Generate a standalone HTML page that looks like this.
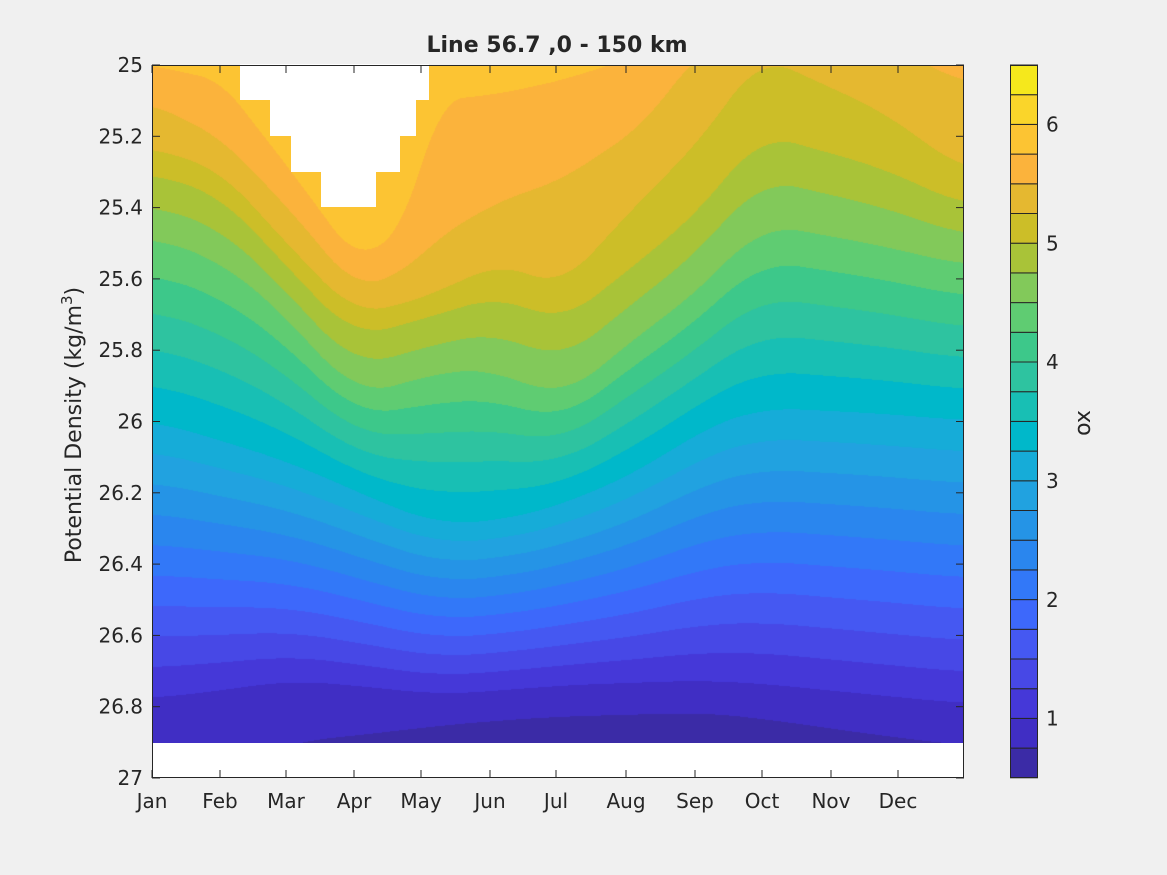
<!DOCTYPE html>
<html><head><meta charset="utf-8">
<style>
html,body{margin:0;padding:0;background:#f0f0f0;}
#wrap{position:relative;width:1167px;height:875px;background:#f0f0f0;font-family:"DejaVu Sans","Liberation Sans",sans-serif;color:#262626;overflow:hidden;}
canvas{position:absolute;left:152px;top:65px;}
svg{position:absolute;left:0;top:0;}
</style></head><body>
<div id="wrap">
<canvas id="c" width="812" height="678"></canvas>
<svg width="1167" height="875" xmlns="http://www.w3.org/2000/svg" font-family="DejaVu Sans, Liberation Sans, sans-serif" font-size="20" fill="#262626">
<polygon points="240,64 240,100 270,100 270,136 291,136 291,172 321,172 321,207 376,207 376,172 400,172 400,136 416,136 416,100 429,100 429,64" fill="#fff"/>
<rect x="152" y="743" width="812" height="35" fill="#fff"/>
<rect x="152.5" y="65.5" width="811" height="712" fill="none" stroke="#262626" stroke-width="1"/>
<g stroke="#262626" stroke-width="1" id="ticks"></g>
<g id="labels"></g>
<text x="557" y="52" text-anchor="middle" font-weight="bold" font-size="22">Line 56.7 ,0 - 150 km</text>
<text transform="translate(81,425) rotate(-90)" text-anchor="middle" font-size="22">Potential Density (kg/m<tspan font-size="15" dy="-9">3</tspan><tspan dy="9">)</tspan></text>
<g id="cb"></g>
<text transform="translate(1090,423) rotate(-90)" text-anchor="middle" font-size="22">ox</text>
</svg>
</div>
<script>
var cols=["#3b2ba6","#402ec4","#4538d8","#4748e6","#4558f2","#3d68fb","#3278f8","#2a86ee","#2594e6","#21a2e0","#16acd8","#00b8ca","#18bfb4","#2ec3a0","#3dc88a","#5fcc72","#82c95a","#a9c338","#ccbe28","#e5b830","#fbb33c","#fcc433","#fad52a","#f5e81c"];
function hex(h){return [parseInt(h.substr(1,2),16),parseInt(h.substr(3,2),16),parseInt(h.substr(5,2),16)];}
var rgb=cols.map(hex);
var vals=[5.75,5.5,5.25,5.0,4.5,3.25,1.0,0.75];
var kx=[152,220,290,354,400,440,500,560,640,700,760,880,964];
var ky=[
[65,103,147,173,237,420,698,800],
[80,137,170,195,260,440,690,770],
[170,210,247,270,320,462,680,742],
[257,287,313,337,395,490,685,735],
[235,275,305,325,385,510,690,730],
[100,235,290,313,370,524,694,725],
[93,200,262,295,370,520,690,720],
[80,180,287,323,400,505,685,716],
[55,127,200,260,333,470,682,714],
[10,50,140,210,290,430,680,712],
[-20,20,55,133,223,407,683,718],
[-10,40,110,167,245,413,695,735],
[50,83,170,205,265,420,703,745]];
var N=vals.length,W=812,H=678;
var A=[];
for(var i=0;i<N;i++){A.push(new Float32Array(W));}
for(var px=0;px<W;px++){
 var x=px+152,k=0;while(k<kx.length-2&&x>kx[k+1])k++;
 var t=(x-kx[k])/(kx[k+1]-kx[k]);t=Math.max(0,Math.min(1,t));
 for(var i=0;i<N;i++)A[i][px]=ky[k][i]*(1-t)+ky[k+1][i]*t;
}
// smooth
var R=[22,28,32,36,40,40,40,40];
var S=[];
for(var i=0;i<N;i++){var s=new Float32Array(W),r=R[i];
 for(var px=0;px<W;px++){var sum=0,n=0;for(var q=px-r;q<=px+r;q++){var qq=Math.max(0,Math.min(W-1,q));sum+=A[i][qq];n++;}s[px]=sum/n;}
 S.push(s);}
var cv=document.getElementById('c'),ctx=cv.getContext('2d');
var img=ctx.createImageData(W,H),d=img.data;
for(var px=0;px<W;px++){
 var a=[];for(var i=0;i<N;i++)a.push(S[i][px]);
 for(var i=1;i<N;i++)if(a[i]<a[i-1]+2)a[i]=a[i-1]+2;
 for(var py=0;py<H;py++){
  var y=py+65,v;
  if(y<=a[0]){v=vals[0]+(a[0]-y)/35*0.25;if(v>5.99)v=5.99;}
  else if(y>=a[N-1])v=vals[N-1]-(y-a[N-1])/30*0.25;
  else{for(var j=0;j<N-1;j++){if(y<=a[j+1]){var f=(y-a[j])/(a[j+1]-a[j]);v=vals[j]+(vals[j+1]-vals[j])*f;break;}}}
  var b=Math.floor((v-0.5)/0.25);b=Math.max(0,Math.min(23,b));
  var c=rgb[b],o=(py*W+px)*4;d[o]=c[0];d[o+1]=c[1];d[o+2]=c[2];d[o+3]=255;
 }
}
ctx.putImageData(img,0,0);
var NS="http://www.w3.org/2000/svg";
function el(p,n,at,txt){var e=document.createElementNS(NS,n);for(var q in at)e.setAttribute(q,at[q]);if(txt!=null)e.textContent=txt;p.appendChild(e);return e;}
var tk=document.getElementById('ticks'),lb=document.getElementById('labels');
var yl=["25","25.2","25.4","25.6","25.8","26","26.2","26.4","26.6","26.8","27"];
for(var i=0;i<11;i++){var y=65+i*71.3;
 el(tk,'line',{x1:152,y1:y,x2:160,y2:y});el(tk,'line',{x1:964,y1:y,x2:956,y2:y});
 el(lb,'text',{x:143,y:y+7,'text-anchor':'end'},yl[i]);}
var mx=[152,220,286,354,421,490,556,626,695,762,831,898],mn=["Jan","Feb","Mar","Apr","May","Jun","Jul","Aug","Sep","Oct","Nov","Dec"];
for(var i=0;i<12;i++){var x=mx[i];
 el(tk,'line',{x1:x,y1:778,x2:x,y2:770});el(tk,'line',{x1:x,y1:65,x2:x,y2:73});
 el(lb,'text',{x:x,y:808,'text-anchor':'middle'},mn[i]);}
var cb=document.getElementById('cb');
for(var i=0;i<24;i++){var y0=65+(23-i)*29.7;
 el(cb,'rect',{x:1010.5,y:y0,width:27,height:29.7,fill:cols[i],stroke:'#262626','stroke-width':1});}
el(cb,'rect',{x:1010.5,y:65.5,width:27,height:712,fill:'none',stroke:'#262626','stroke-width':1});
for(var v=1;v<=6;v++){var y=778-(v-0.5)*118.8;el(cb,'text',{x:1046,y:y+7},String(v));}
</script>
</body></html>
